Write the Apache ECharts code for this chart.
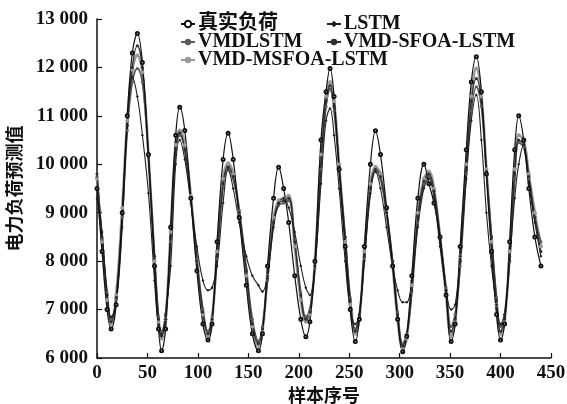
<!DOCTYPE html>
<html>
<head>
<meta charset="utf-8">
<script src="https://cdn.jsdelivr.net/npm/echarts@6/dist/echarts.min.js"></script>
<style>
  html, body { margin: 0; padding: 0; background: #fff; }
  #main { width: 567px; height: 404px; }
</style>
</head>
<body>
<div id="main"></div>
<script>
// sample index of each read-off point
var samples = [0, 5, 10, 14, 19, 25, 30, 35, 40, 45, 51, 57, 61, 64, 68, 73, 78, 82, 87, 93,
  99, 105, 110, 114, 119, 125, 130, 135, 141, 148, 154, 160, 164, 169, 175, 180, 185, 190, 196, 202,
  207, 211, 216, 222, 227, 231, 235, 240, 246, 251, 256, 260, 265, 271, 276, 281, 287, 293, 298, 303,
  307, 312, 318, 324, 329, 334, 340, 346, 351, 355, 360, 366, 371, 376, 381, 386, 391, 396, 400, 404,
  409, 414, 418, 423, 428, 434, 440];

var trueLoad = [9500, 8200, 7000, 6600, 7100, 9000, 11000, 12300, 12700, 12100, 10200, 7900, 6600, 6150, 6600, 8700, 10600, 11180, 10700, 9300,
  7800, 6700, 6370, 6700, 8400, 10100, 10640, 10100, 8900, 7500, 6500, 6150, 6500, 7900, 9300, 9940, 9500, 8800, 7700, 6800,
  6440, 6750, 8000, 10500, 11500, 11980, 11400, 9900, 8300, 7000, 6340, 6800, 8300, 10000, 10690, 10200, 9100, 7900, 6800, 6130,
  6450, 7700, 9300, 10000, 9600, 9200, 8500, 7300, 6340, 6700, 8300, 10300, 11700, 12220, 11500, 9800, 8200, 6900, 6370, 6700,
  8400, 10300, 11000, 10500, 9500, 8500, 7900];

var lstm = [9300, 8600, 7300, 6850, 7100, 8700, 10800, 11800, 11400, 10600, 9400, 7600, 6600, 6450, 6900, 7900, 10000, 10500, 10100, 9200,
  8300, 7600, 7400, 7450, 7900, 9200, 9900, 9500, 8800, 8100, 7700, 7500, 7370, 7700, 8700, 9200, 9300, 9100, 8600, 7900,
  7450, 7300, 7900, 9600, 10900, 11150, 10600, 9500, 8000, 7000, 6700, 6900, 8000, 9400, 9850, 9500, 8700, 7900, 7400, 7150,
  7150, 7600, 8700, 9500, 9700, 9300, 8300, 7400, 7000, 7100, 8100, 9700, 10900, 11430, 10500, 9000, 7900, 7100, 6700, 6900,
  8000, 9300, 10000, 10400, 9600, 8800, 8100];

var vmdLstm = [9750, 8450, 7350, 6800, 7200, 8900, 10700, 11700, 11980, 11700, 10150, 8100, 6850, 6550, 6900, 8400, 10300, 10600, 10300, 9300,
  8050, 7000, 6550, 6850, 8050, 9550, 9880, 9700, 9050, 7850, 6800, 6350, 6650, 7600, 8800, 9150, 9200, 9250, 8400, 7350,
  6850, 7000, 7850, 9900, 11200, 11550, 11100, 9900, 8500, 7250, 6600, 6900, 8050, 9450, 9850, 9700, 9000, 8000, 6950, 6300,
  6500, 7350, 8800, 9600, 9750, 9450, 8500, 7450, 6650, 6900, 7900, 9800, 11100, 11600, 11200, 9850, 8500, 7250, 6650, 6900,
  8000, 9700, 10450, 10350, 9700, 8900, 8400];

var vmdSfoaLstm = [9800, 8500, 7300, 6750, 7250, 9000, 10800, 12000, 12450, 12000, 10150, 8100, 6800, 6500, 6800, 8500, 10300, 10650, 10300, 9300,
  8000, 6950, 6500, 6800, 8100, 9600, 9950, 9750, 9000, 7800, 6700, 6300, 6600, 7650, 8800, 9200, 9250, 9300, 8400, 7300,
  6800, 6950, 7900, 10000, 11300, 11620, 11200, 9950, 8500, 7200, 6550, 6850, 8100, 9500, 9900, 9750, 9000, 8000, 6900, 6250,
  6450, 7400, 8900, 9650, 9800, 9450, 8500, 7400, 6550, 6800, 8000, 9900, 11300, 11770, 11300, 9850, 8500, 7200, 6550, 6800,
  8100, 9800, 10500, 10400, 9750, 8900, 8200];

var vmdMsfoaLstm = [9700, 8400, 7200, 6700, 7300, 9100, 10900, 11950, 12250, 11900, 10200, 8000, 6750, 6400, 6800, 8600, 10400, 10700, 10400, 9350,
  8000, 6900, 6450, 6750, 8200, 9700, 10020, 9800, 9000, 7700, 6650, 6250, 6550, 7700, 8900, 9250, 9300, 9350, 8300, 7200,
  6750, 6900, 8000, 10200, 11400, 11700, 11300, 10000, 8400, 7100, 6500, 6800, 8200, 9600, 9950, 9800, 9000, 7900, 6800, 6200,
  6400, 7500, 9000, 9700, 9850, 9500, 8500, 7300, 6450, 6750, 8100, 10000, 11400, 11980, 11400, 9900, 8400, 7100, 6500, 6750,
  8200, 9900, 10600, 10500, 9800, 9000, 8300];

var yTicks = [6000, 7000, 8000, 9000, 10000, 11000, 12000, 13000];

var serif = '"Liberation Serif", "Noto Sans CJK SC", serif';

function pairs(arr) {
  return samples.map(function (s, i) { return [s, arr[i]]; });
}

function legendAt(name, left, top) {
  return {
    data: [name],
    left: left,
    top: top,
    itemWidth: 14,
    itemHeight: 8,
    itemGap: 4,
    textStyle: { fontFamily: serif, fontWeight: 'bold', fontSize: 20, color: '#111', padding: [0, 0, 0, -2] }
  };
}

function line(name, arr, color, width, symbol, size) {
  return {
    name: name,
    type: 'line',
    data: pairs(arr),
    smooth: 0.4,
    symbol: symbol,
    symbolSize: size,
    lineStyle: { color: color, width: width },
    itemStyle: { color: color },
    emphasis: { disabled: true }
  };
}

var myChart = echarts.init(document.getElementById('main'));

var option = {
  animation: false,
  backgroundColor: '#fff',
  legend: [
    legendAt('真实负荷', 175, 9),
    legendAt('LSTM', 321, 9),
    legendAt('VMDLSTM', 175, 27),
    legendAt('VMD-SFOA-LSTM', 321, 27),
    legendAt('VMD-MSFOA-LSTM', 175, 45)
  ],
  grid: { left: 97, right: 16, top: 19, bottom: 46, containLabel: false, outerBoundsMode: 'none' },
  xAxis: {
    type: 'value',
    min: 0,
    max: 450,
    interval: 50,
    name: '样本序号',
    nameLocation: 'middle',
    nameGap: 28,
    nameTextStyle: { fontFamily: serif, fontWeight: 'bold', fontSize: 18, color: '#111' },
    axisLine: { lineStyle: { color: '#111', width: 1.5 } },
    axisTick: { inside: true, length: 5, lineStyle: { color: '#111', width: 1.2 } },
    splitLine: { show: false },
    axisLabel: { fontFamily: serif, fontWeight: 'bold', fontSize: 19, color: '#111', margin: 6 }
  },
  yAxis: {
    type: 'value',
    min: yTicks[0],
    max: yTicks[yTicks.length - 1],
    interval: 1000,
    name: '电力负荷预测值',
    nameLocation: 'middle',
    nameRotate: 90,
    nameGap: 66,
    nameTextStyle: { fontFamily: serif, fontWeight: 'bold', fontSize: 18, color: '#111' },
    axisLine: { show: true, lineStyle: { color: '#111', width: 1.5 } },
    axisTick: { show: true, inside: true, length: 5, lineStyle: { color: '#111', width: 1.2 } },
    splitLine: { show: false },
    axisLabel: {
      fontFamily: serif, fontWeight: 'bold', fontSize: 19, color: '#111', margin: 9,
      formatter: function (v) {
        var s = String(v);
        return s.slice(0, s.length - 3) + ' ' + s.slice(-3);
      }
    }
  },
  series: [
    line('VMD-MSFOA-LSTM', vmdMsfoaLstm, '#9a9a9a', 2.6, 'circle', 4),
    line('VMDLSTM', vmdLstm, '#5c5c5c', 1.8, 'circle', 3),
    line('VMD-SFOA-LSTM', vmdSfoaLstm, '#2e2e2e', 1.3, 'circle', 3),
    line('LSTM', lstm, '#1e1e1e', 1.1, 'diamond', 3),
    line('真实负荷', trueLoad, '#111', 1.2, 'emptyCircle', 3)
  ]
};

myChart.setOption(option);
</script>
</body>
</html>
